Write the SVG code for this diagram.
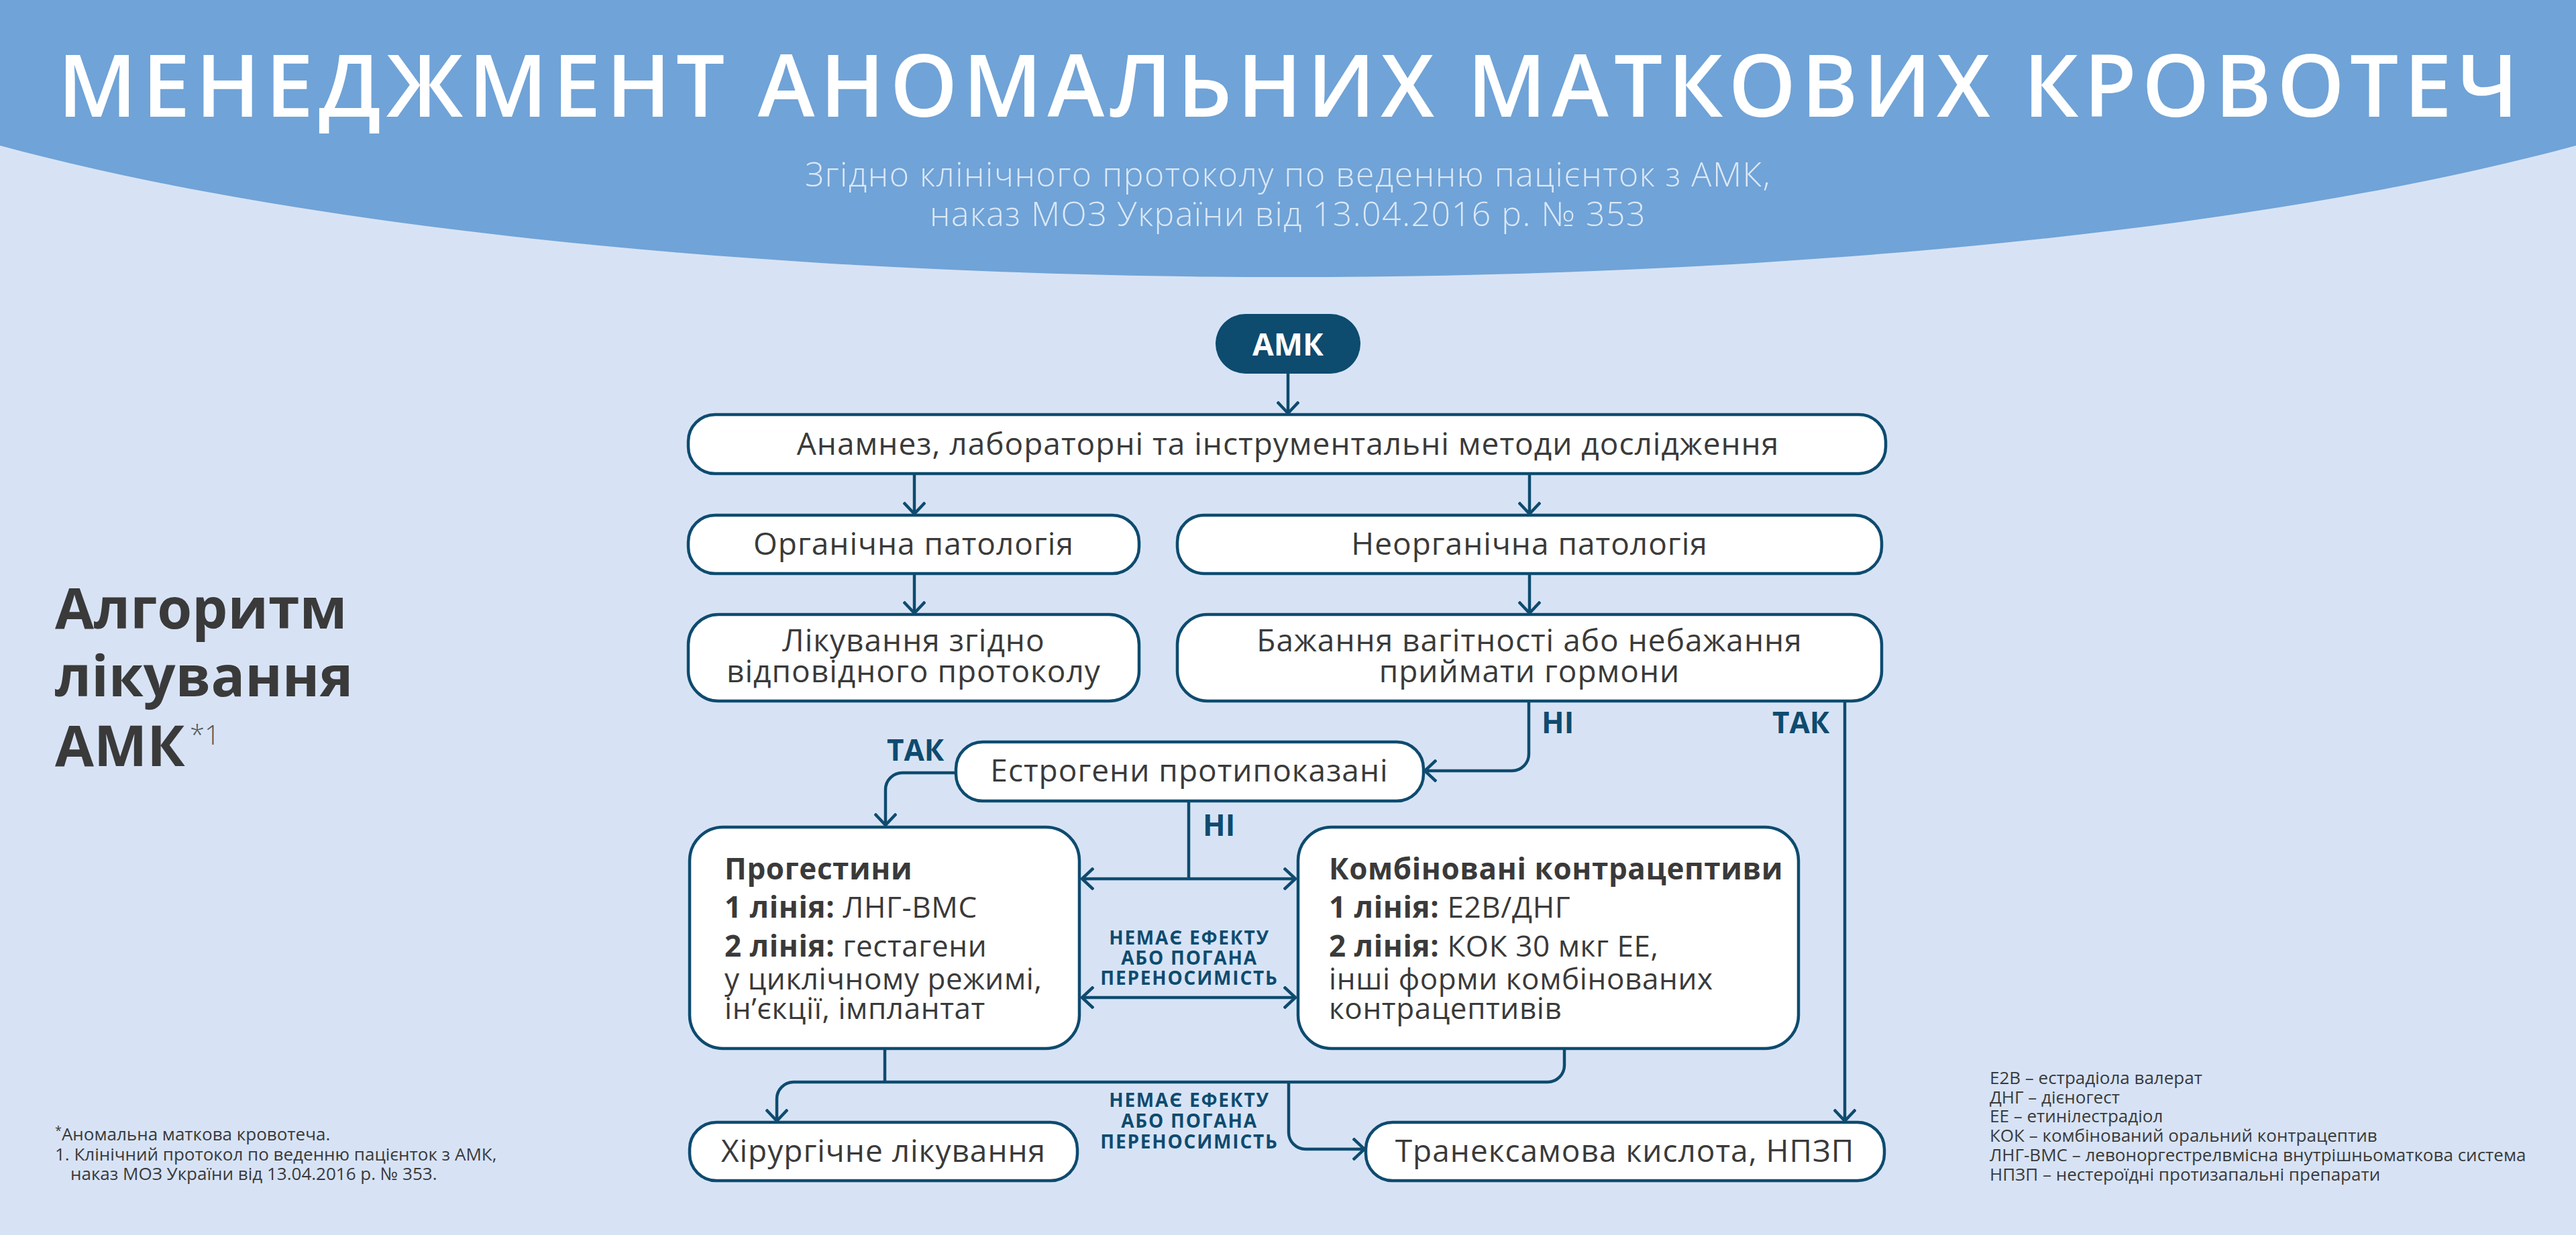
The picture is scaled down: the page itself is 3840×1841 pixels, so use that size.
<svg xmlns="http://www.w3.org/2000/svg" width="3840" height="1841" viewBox="0 0 3840 1841">
<defs>
<style>
.node{fill:#ffffff;stroke:#0e4b6f;stroke-width:4.5}
.txt{font-family:"Open Sans","Noto Sans",sans-serif;fill:#3a3a3a}
.c{text-anchor:middle}
.n{font-size:46px;letter-spacing:1px}
.p{font-size:44px;letter-spacing:0.6px}
.lbl{font-family:"Open Sans","Noto Sans",sans-serif;fill:#0e4b6f;font-weight:700}
.conn{fill:none;stroke:#0e4b6f;stroke-width:4.5}
.b{font-weight:700}
</style>
<marker id="arr" viewBox="0 0 20 34" refX="18" refY="17" markerWidth="20" markerHeight="34" markerUnits="userSpaceOnUse" orient="auto-start-reverse">
<path d="M1,1 L18,17 L1,33" fill="none" stroke="#0e4b6f" stroke-width="4.5"/>
</marker>
</defs>
<rect x="0" y="0" width="3840" height="1841" fill="#d7e3f5"/>
<ellipse cx="1920" cy="-77" rx="2400" ry="490" fill="#70a3d7"/>
<text x="86" y="174" font-family="'Open Sans','Noto Sans',sans-serif" font-size="128" font-weight="600" fill="#ffffff" textLength="3668" lengthAdjust="spacing">МЕНЕДЖМЕНТ АНОМАЛЬНИХ МАТКОВИХ КРОВОТЕЧ</text>
<text x="1920" y="278" font-family="'Open Sans','Noto Sans',sans-serif" font-size="50" fill="#dce8f7" text-anchor="middle" font-weight="300" letter-spacing="1.5">Згідно клінічного протоколу по веденню пацієнток з АМК,</text>
<text x="1920" y="337" font-family="'Open Sans','Noto Sans',sans-serif" font-size="50" fill="#dce8f7" text-anchor="middle" font-weight="300" letter-spacing="1.5">наказ МОЗ України від 13.04.2016 р. № 353</text>

<g id="side-title" class="txt">
<text x="82" y="937" font-size="84" font-weight="700">Алгоритм</text>
<text x="82" y="1038" font-size="84" font-weight="700">лікування</text>
<text x="82" y="1142" font-size="84" font-weight="700">АМК</text>
<text x="283" y="1110" font-size="40" font-weight="300" fill="#555">*1</text>
</g>

<g id="footnotes" class="txt" font-size="26" fill="#444">
<text x="82" y="1700"><tspan font-size="18" dy="-8">*</tspan><tspan dy="8">Аномальна маткова кровотеча.</tspan></text>
<text x="82" y="1730">1. Клінічний протокол по веденню пацієнток з АМК,</text>
<text x="105" y="1759">наказ МОЗ України від 13.04.2016 р. № 353.</text>
</g>

<g id="legend" class="txt" font-size="26" fill="#444">
<text x="2966" y="1616">Е2В – естрадіола валерат</text>
<text x="2966" y="1645">ДНГ – дієногест</text>
<text x="2966" y="1673">ЕЕ – етинілестрадіол</text>
<text x="2966" y="1702">КОК – комбінований оральний контрацептив</text>
<text x="2966" y="1731">ЛНГ-ВМС – левоноргестрелвмісна внутрішньоматкова система</text>
<text x="2966" y="1760">НПЗП – нестероїдні протизапальні препарати</text>
</g>

<g id="connectors">
<path class="conn" d="M1920,557 V616" marker-end="url(#arr)"/>
<path class="conn" d="M1363,706 V766" marker-end="url(#arr)"/>
<path class="conn" d="M2280,706 V766" marker-end="url(#arr)"/>
<path class="conn" d="M1363,855 V914" marker-end="url(#arr)"/>
<path class="conn" d="M2280,855 V914" marker-end="url(#arr)"/>
<path class="conn" d="M2279,1045 V1124 A25,25 0 0 1 2254,1149 H2124" marker-end="url(#arr)"/>
<path class="conn" d="M2750,1045 V1671" marker-end="url(#arr)"/>
<path class="conn" d="M1425,1152 H1345 A25,25 0 0 0 1320,1177 V1230" marker-end="url(#arr)"/>
<path class="conn" d="M1772,1194 V1310"/>
<path class="conn" d="M1613,1310 H1931" marker-start="url(#arr)" marker-end="url(#arr)"/>
<path class="conn" d="M1613,1487 H1931" marker-start="url(#arr)" marker-end="url(#arr)"/>
<path class="conn" d="M1319,1563 V1613"/>
<path class="conn" d="M2332,1563 V1588 A25,25 0 0 1 2307,1613 H1183 A25,25 0 0 0 1158,1638 V1671" marker-end="url(#arr)"/>
<path class="conn" d="M1921,1613 V1688 A25,25 0 0 0 1946,1713 H2034" marker-end="url(#arr)"/>
<text class="lbl" x="2298" y="1093" font-size="44">НІ</text>
<text class="lbl" x="2642" y="1093" font-size="44">ТАК</text>
<text class="lbl" x="1322" y="1134" font-size="44">ТАК</text>
<text class="lbl" x="1793" y="1246" font-size="44">НІ</text>
<g class="lbl" font-size="28" text-anchor="middle" letter-spacing="1.8">
<text x="1773" y="1408">НЕМАЄ ЕФЕКТУ</text>
<text x="1773" y="1438">АБО ПОГАНА</text>
<text x="1773" y="1468">ПЕРЕНОСИМІСТЬ</text>
<text x="1773" y="1650">НЕМАЄ ЕФЕКТУ</text>
<text x="1773" y="1681">АБО ПОГАНА</text>
<text x="1773" y="1712">ПЕРЕНОСИМІСТЬ</text>
</g>
</g>

<g id="amk">
<rect x="1812" y="468" width="216" height="89" rx="44.5" fill="#0d4b6f"/>
<text x="1920" y="530" font-family="'Open Sans','Noto Sans',sans-serif" font-size="46" font-weight="700" fill="#ffffff" text-anchor="middle">АМК</text>
</g>

<g id="anamnez">
<rect class="node" x="1026" y="618" width="1785" height="88" rx="40"/>
<text class="txt c n" x="1920" y="678">Анамнез, лабораторні та інструментальні методи дослідження</text>
</g>

<g id="organic">
<rect class="node" x="1026" y="768" width="672" height="87" rx="40"/>
<text class="txt c n" x="1362" y="827">Органічна патологія</text>
</g>

<g id="inorganic">
<rect class="node" x="1755" y="768" width="1050" height="87" rx="40"/>
<text class="txt c n" x="2280" y="827">Неорганічна патологія</text>
</g>

<g id="protocol">
<rect class="node" x="1026" y="916" width="672" height="129" rx="45"/>
<text class="txt c n" x="1362" y="971">Лікування згідно</text>
<text class="txt c n" x="1362" y="1017">відповідного протоколу</text>
</g>

<g id="pregnancy">
<rect class="node" x="1755" y="916" width="1050" height="129" rx="45"/>
<text class="txt c n" x="2280" y="971">Бажання вагітності або небажання</text>
<text class="txt c n" x="2280" y="1017">приймати гормони</text>
</g>

<g id="estrogen">
<rect class="node" x="1425" y="1106" width="697" height="88" rx="40"/>
<text class="txt c n" x="1773" y="1165">Естрогени протипоказані</text>
</g>

<g id="progestins">
<rect class="node" x="1028" y="1233" width="581" height="330" rx="50"/>
<g class="txt p">
<text x="1080" y="1311" class="b">Прогестини</text>
<text x="1080" y="1368"><tspan class="b">1 лінія:</tspan> ЛНГ-ВМС</text>
<text x="1080" y="1426"><tspan class="b">2 лінія:</tspan> гестагени</text>
<text x="1080" y="1475">у циклічному режимі,</text>
<text x="1080" y="1519">ін’єкції, імплантат</text>
</g>
</g>

<g id="combined">
<rect class="node" x="1935" y="1233" width="746" height="330" rx="50"/>
<g class="txt p">
<text x="1981" y="1311" class="b">Комбіновані контрацептиви</text>
<text x="1981" y="1368"><tspan class="b">1 лінія:</tspan> Е2В/ДНГ</text>
<text x="1981" y="1426"><tspan class="b">2 лінія:</tspan> КОК 30 мкг ЕЕ,</text>
<text x="1981" y="1475">інші форми комбінованих</text>
<text x="1981" y="1519">контрацептивів</text>
</g>
</g>

<g id="surgery">
<rect class="node" x="1028" y="1673" width="578" height="87" rx="40"/>
<text class="txt c n" x="1317" y="1732">Хірургічне лікування</text>
</g>

<g id="tranexamic">
<rect class="node" x="2036" y="1673" width="773" height="87" rx="40"/>
<text class="txt c n" x="2422" y="1732">Транексамова кислота, НПЗП</text>
</g>
</svg>
